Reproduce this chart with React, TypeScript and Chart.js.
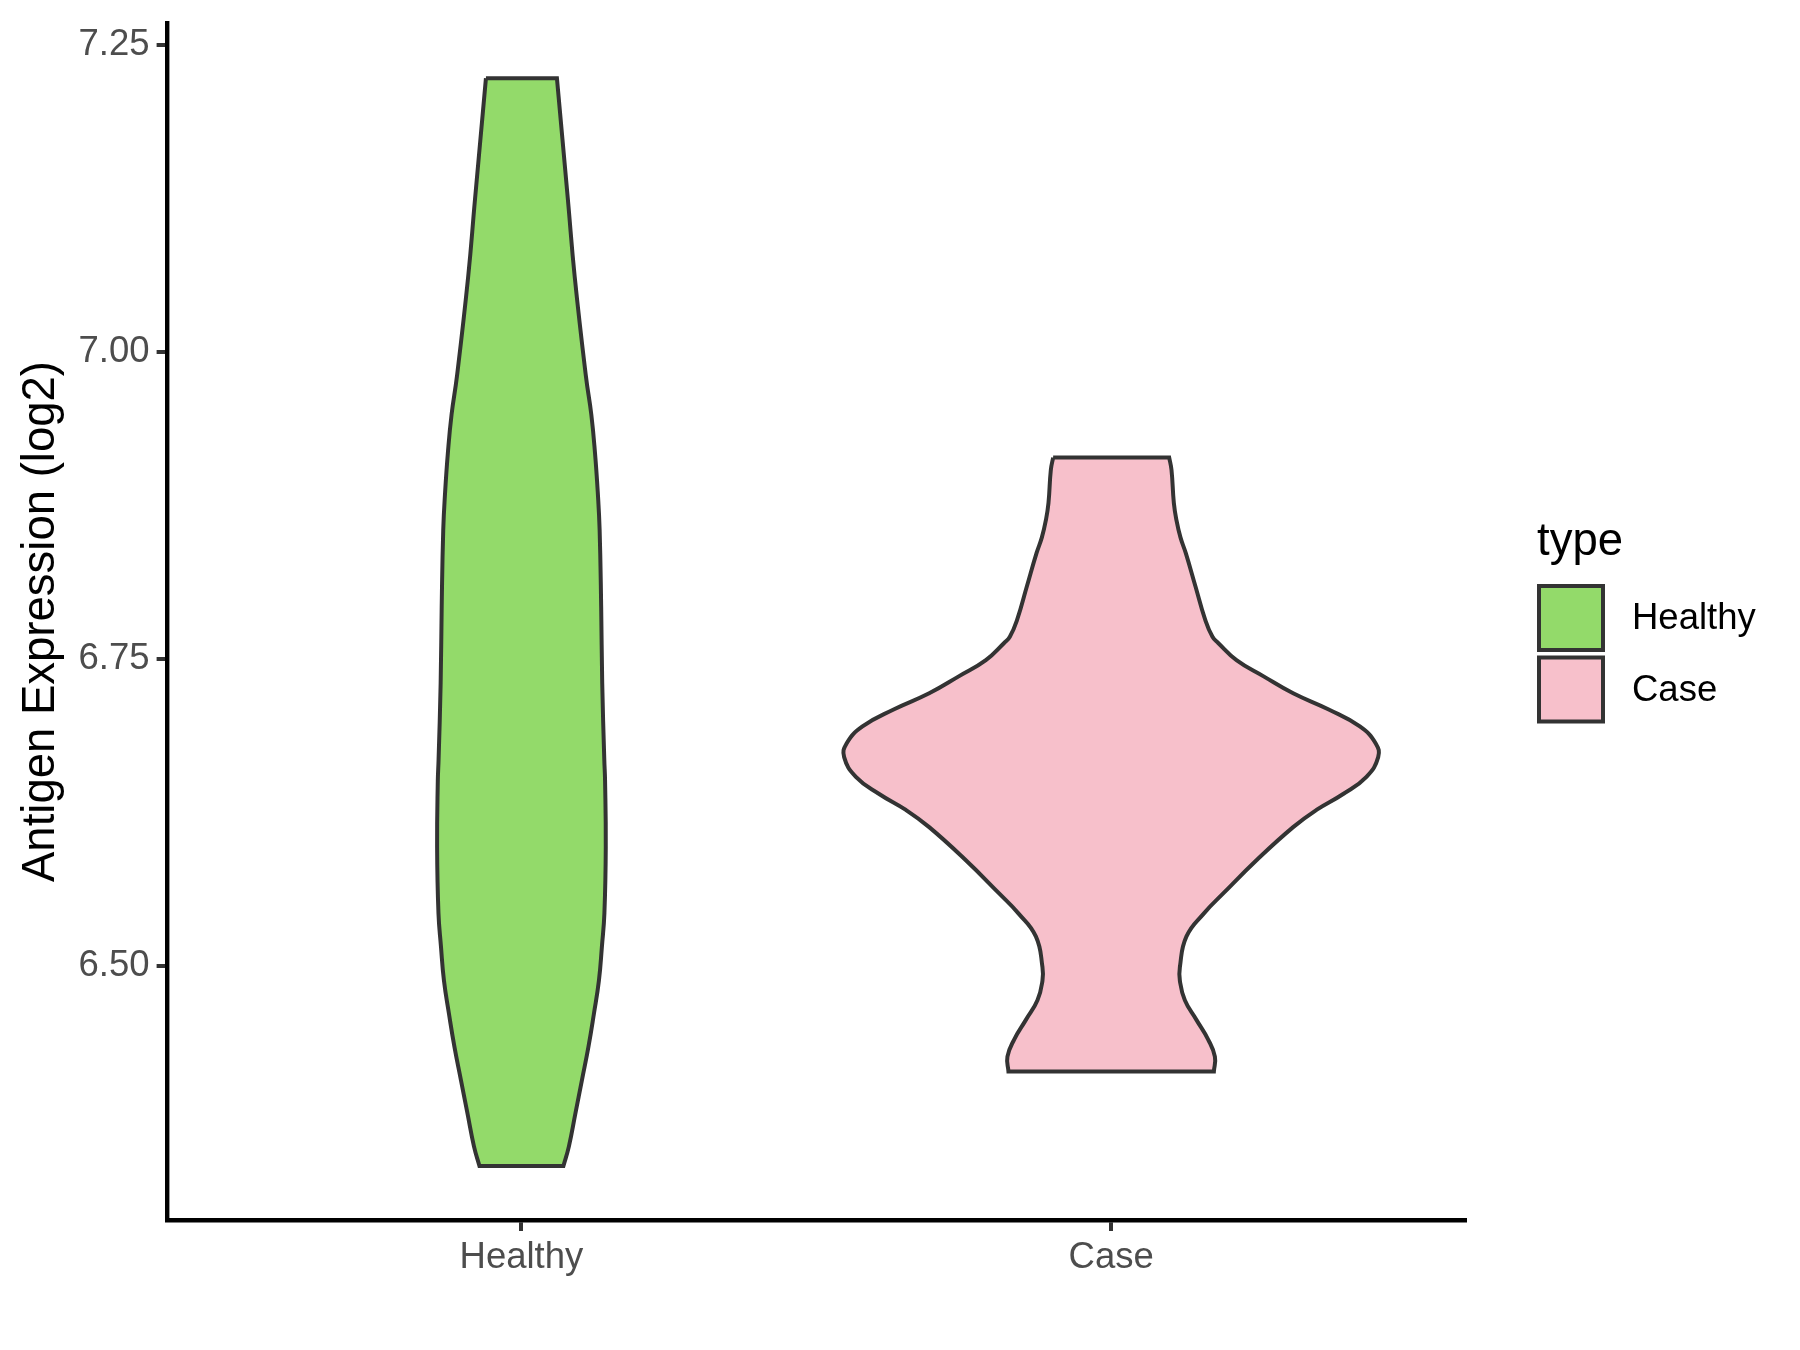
import React, { useEffect, useRef } from 'react';
import { Chart, registerables } from 'chart.js';

Chart.register(...registerables);

// ---- data ----
const categories = ['Healthy', 'Case'];
const categoryPositions = [1, 2];
const fillColors = ['#93DA6A', '#F7C0CB'];
const yTickValues = [6.5, 6.75, 7.0, 7.25];
const yMin = 6.293;
const yMax = 7.268;

// violin outline: expression level (log2) and half-width (in category units)
const healthyLevels = [7.223, 7.1235, 7.061, 6.98, 6.949, 6.918, 6.886, 6.855, 6.793, 6.73, 6.668, 6.651, 6.597, 6.543, 6.516, 6.488, 6.461, 6.434, 6.407, 6.38, 6.353, 6.337];
const healthyHalfWidths = [0.0602, 0.0789, 0.0904, 0.1094, 0.1185, 0.1247, 0.1294, 0.1326, 0.1352, 0.137, 0.1405, 0.1418, 0.143, 0.1407, 0.1365, 0.1314, 0.1229, 0.1136, 0.1026, 0.0916, 0.0805, 0.0712];

const caseLevels = [6.914, 6.904, 6.877, 6.863, 6.849, 6.836, 6.809, 6.782, 6.768, 6.763, 6.749, 6.736, 6.722, 6.709, 6.695, 6.681, 6.67, 6.654, 6.64, 6.627, 6.613, 6.586, 6.559, 6.543, 6.524, 6.499, 6.488, 6.472, 6.456, 6.44, 6.426, 6.414];
const caseHalfWidths = [0.0984, 0.1023, 0.1063, 0.1107, 0.1175, 0.1267, 0.143, 0.1594, 0.1718, 0.1815, 0.2125, 0.2578, 0.3086, 0.368, 0.4217, 0.4489, 0.4528, 0.4329, 0.3934, 0.3481, 0.3086, 0.2464, 0.19, 0.1577, 0.1277, 0.1165, 0.1165, 0.125, 0.1446, 0.1645, 0.1759, 0.1742];

const FONT = '"Liberation Sans", Arial, Helvetica, sans-serif';

function violinOutline(center: number, levels: number[], widths: number[]) {
  const left = levels.map((y, i) => ({ x: center - widths[i], y }));
  const right = levels.map((y, i) => ({ x: center + widths[i], y })).reverse();
  const pts: { x: number; y: number }[] = [];
  left.forEach((p) => pts.push(p));
  pts.push(left[left.length - 1]);
  pts.push(right[0]);
  right.forEach((p) => pts.push(p));
  pts.push(right[right.length - 1]);
  pts.push(left[0]);
  return pts;
}

const legendPlugin = {
  id: 'typeLegend',
  afterDraw(chart: any) {
    const ctx = chart.ctx as CanvasRenderingContext2D;
    const x0 = chart.chartArea.right + 72;
    ctx.save();
    ctx.fillStyle = '#000000';
    ctx.font = `45.5px ${FONT}`;
    ctx.textAlign = 'left';
    ctx.textBaseline = 'alphabetic';
    ctx.fillText('type', x0, 555);
    categories.forEach((label, i) => {
      const top = 586 + i * 71.5;
      ctx.fillStyle = fillColors[i];
      ctx.fillRect(x0 + 2, top, 64, 64);
      ctx.strokeStyle = '#333333';
      ctx.lineWidth = 4;
      ctx.strokeRect(x0 + 2, top, 64, 64);
      ctx.fillStyle = '#000000';
      ctx.font = `36.5px ${FONT}`;
      ctx.textBaseline = 'middle';
      ctx.fillText(label, x0 + 95, top + 33);
    });
    ctx.restore();
  },
};

export default function App() {
  const canvasRef = useRef<HTMLCanvasElement | null>(null);

  useEffect(() => {
    if (!canvasRef.current) return;
    const violinStyle = {
      showLine: true,
      fill: 'shape',
      borderColor: '#333333',
      borderWidth: 4,
      borderJoinStyle: 'miter',
      tension: 0.45,
      pointRadius: 0,
      pointHoverRadius: 0,
    };
    const chart = new Chart(canvasRef.current, {
      type: 'scatter',
      data: {
        datasets: [
          {
            ...violinStyle,
            label: categories[0],
            data: violinOutline(categoryPositions[0], healthyLevels, healthyHalfWidths),
            backgroundColor: fillColors[0],
          },
          {
            ...violinStyle,
            label: categories[1],
            data: violinOutline(categoryPositions[1], caseLevels, caseHalfWidths),
            backgroundColor: fillColors[1],
          },
        ],
      },
      options: {
        responsive: false,
        animation: false,
        devicePixelRatio: 1,
        events: [],
        layout: { padding: { top: 23, right: 335, bottom: 0, left: 0 } },
        plugins: {
          legend: { display: false },
          tooltip: { enabled: false },
        },
        scales: {
          x: {
            type: 'linear',
            min: 0.4,
            max: 2.6,
            afterBuildTicks: (scale: any) => {
              scale.ticks = categoryPositions.map((v) => ({ value: v }));
            },
            afterFit: (scale: any) => {
              scale.height = 130;
              scale.paddingLeft = 0;
              scale.paddingRight = 0;
              scale.paddingTop = 0;
              scale.paddingBottom = 0;
            },
            ticks: {
              autoSkip: false,
              maxRotation: 0,
              padding: 5,
              color: '#4D4D4D',
              font: { family: FONT, size: 36.5 },
              callback: (value: any) => {
                const i = categoryPositions.indexOf(Number(value));
                return i >= 0 ? categories[i] : '';
              },
            },
            grid: {
              display: true,
              drawOnChartArea: false,
              drawTicks: true,
              tickLength: 11,
              tickWidth: 4,
              tickColor: '#333333',
              lineWidth: 4,
            },
            border: { display: true, color: '#000000', width: 4.4 },
          },
          y: {
            type: 'linear',
            min: yMin,
            max: yMax,
            afterBuildTicks: (scale: any) => {
              scale.ticks = yTickValues.map((v) => ({ value: v }));
            },
            afterFit: (scale: any) => {
              scale.width = 167.6;
              scale.paddingLeft = 0;
              scale.paddingRight = 0;
              scale.paddingTop = 0;
              scale.paddingBottom = 0;
            },
            ticks: {
              autoSkip: false,
              padding: 7,
              color: '#4D4D4D',
              font: { family: FONT, size: 36.5 },
              callback: (value: any) => Number(value).toFixed(2),
            },
            grid: {
              display: true,
              drawOnChartArea: false,
              drawTicks: true,
              tickLength: 11,
              tickWidth: 4,
              tickColor: '#333333',
              lineWidth: 4,
            },
            border: { display: true, color: '#000000', width: 4.4 },
            title: {
              display: true,
              text: 'Antigen Expression (log2)',
              color: '#000000',
              font: { family: FONT, size: 45.5 },
              padding: { top: 14, bottom: 0 },
            },
          },
        },
      },
      plugins: [legendPlugin],
    } as any);
    return () => chart.destroy();
  }, []);

  return (
    <div style={{ position: 'absolute', left: 0, top: 0, width: 1800, height: 1350, background: '#ffffff' }}>
      <canvas ref={canvasRef} width={1800} height={1350} style={{ display: 'block' }} />
    </div>
  );
}
